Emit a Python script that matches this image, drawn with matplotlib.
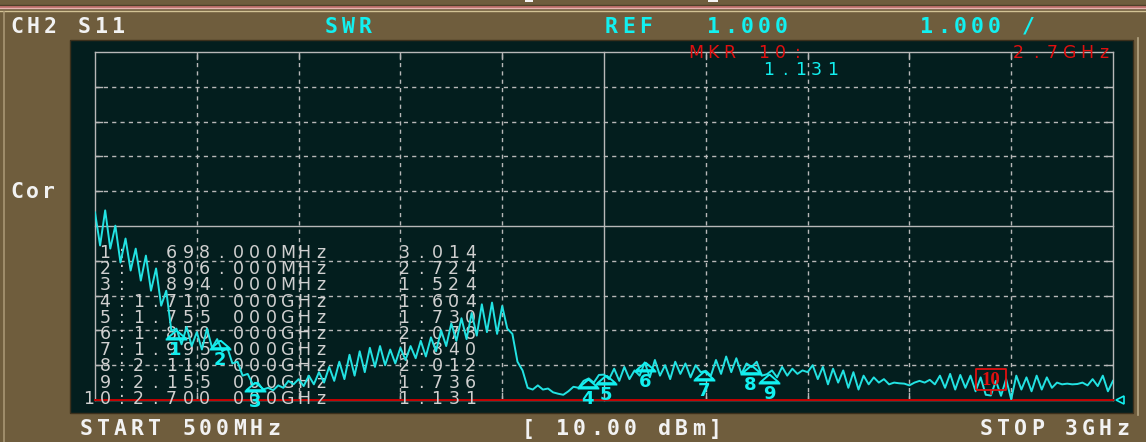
import numpy as np
import matplotlib
matplotlib.use("Agg")
import matplotlib.pyplot as plt
from matplotlib.transforms import Affine2D
from matplotlib.lines import Line2D
from matplotlib.patches import Rectangle
from matplotlib.path import Path

W, H = 1146, 442

START_MHZ = 500
STOP_MHZ = 3000
REF_SWR = 1.0
SWR_PER_DIV = 1.0

# swept SWR trace, 201 points START..STOP
swr_trace = [
    6.39, 5.44, 6.45, 5.35, 6.01, 4.95, 5.64, 4.72, 5.35, 4.43,
    5.15, 4.14, 4.78, 3.71, 4.14, 2.99, 3.05, 2.60, 3.10, 2.55,
    2.95, 2.45, 3.05, 2.50, 2.75, 2.40, 2.50, 2.05, 2.10, 1.70,
    1.75, 1.45, 1.50, 1.30, 1.35, 1.28, 1.42, 1.35, 1.55, 1.45,
    1.60, 1.40, 1.70, 1.45, 1.80, 1.50, 1.95, 1.55, 2.10, 1.60,
    2.30, 1.70, 2.40, 1.80, 2.50, 1.95, 2.55, 2.00, 2.45, 2.05,
    2.50, 2.15, 2.55, 2.20, 2.70, 2.25, 2.80, 2.40, 3.00, 2.55,
    3.20, 2.70, 3.35, 2.75, 3.50, 2.85, 3.75, 2.95, 3.80, 2.90,
    3.70, 3.05, 2.90, 2.10, 1.85, 1.35, 1.30, 1.42, 1.30, 1.33,
    1.22, 1.18, 1.15, 1.25, 1.38, 1.35, 1.55, 1.62, 1.50, 1.72,
    1.73, 1.60, 1.90, 1.55, 1.95, 1.60, 1.85, 1.70, 2.08, 1.65,
    2.15, 1.70, 2.00, 1.60, 2.10, 1.75, 2.05, 1.65, 2.00, 1.80,
    1.84, 1.70, 2.15, 1.75, 2.25, 1.80, 2.20, 1.75, 2.05, 1.95,
    2.10, 1.70, 1.74, 1.85, 1.65, 1.95, 1.70, 1.90, 1.75, 1.85,
    1.80, 2.00, 1.60, 1.95, 1.45, 1.90, 1.50, 1.85, 1.35, 1.80,
    1.30, 1.70, 1.45, 1.65, 1.50, 1.60, 1.45, 1.50, 1.48, 1.47,
    1.42, 1.50, 1.55, 1.50, 1.58, 1.45, 1.70, 1.35, 1.75, 1.30,
    1.72, 1.35, 1.70, 1.25, 1.65, 1.15, 1.13, 1.55, 1.12, 1.60,
    1.02, 1.70, 1.30, 1.65, 1.25, 1.70, 1.30, 1.65, 1.35, 1.50,
    1.45, 1.47, 1.45, 1.46, 1.50, 1.42, 1.60, 1.40, 1.70, 1.25,
    1.55,
]

mkr_num = [1, 2, 3, 4, 5, 6, 7, 8, 9, 10]
mkr_freq_mhz = [698, 806, 894, 1710, 1755, 1850, 1995, 2110, 2155, 2700]
mkr_swr = [3.014, 2.724, 1.524, 1.604, 1.730, 2.078, 1.840, 2.012, 1.736, 1.131]
ACTIVE_MKR = 10

BROWN = '#6f5d3d'
PANEL = '#031e1e'
GRID = '#b8b8b8'
TRACE = '#22e2e2'
CYAN = '#12f0f0'
WHITE = '#f2f2f2'
TABLE = '#d0d0d0'
RED = '#e01010'

plt.rcParams['lines.scale_dashes'] = False

fig = plt.figure(figsize=(W / 100, H / 100), dpi=100, facecolor=BROWN)
# pixel coords, origin top-left
px = Affine2D().scale(1 / W, -1 / H).translate(0, 1) + fig.transFigure


def put(target, s, x0, base, pitch, size, color, weight='normal',
        family='DejaVu Sans Mono', z=3):
    # fixed-pitch text like the instrument's screen font
    for i, ch in enumerate(s):
        if ch == ' ':
            continue
        target.text(x0 + i * pitch + 6.5, base, ch, transform=px, ha='center',
                    va='baseline', fontsize=size, color=color,
                    fontweight=weight, family=family, zorder=z)


def hline(y, x0, x1, color, lw):
    fig.add_artist(Line2D([x0, x1], [y, y], transform=px, color=color, lw=lw, zorder=-1))


# frame decorations
hline(5, 0, W, '#4e4028', 1.0)
hline(6.8, 0, W, '#c87070', 1.2)
hline(8.4, 0, W, '#e8b4b0', 1.0)
hline(11, 0, W, '#d2c294', 1.0)
fig.add_artist(Line2D([4, 4], [12, H], transform=px, color='#a89674', lw=1.2, zorder=-1))
fig.add_artist(Line2D([1138, 1138], [38, 415], transform=px, color='#b4a482', lw=1.2, zorder=-1))
for xa, xb in [(525, 533), (708, 718)]:
    fig.add_artist(Rectangle((xa, 0), xb - xa, 2, transform=px, color='#f4f4f4', lw=0, zorder=-1))
fig.add_artist(Rectangle((70, 40), 1133 - 70, 413 - 40, transform=px,
                         facecolor=PANEL, edgecolor='#3c301c', lw=1, zorder=-1))

# header / footer
put(fig, 'CH2 S11', 10, 33, 17, 15.5, WHITE, 'bold')
put(fig, 'SWR', 325, 33, 17, 15.5, CYAN, 'bold')
put(fig, 'REF', 605, 33, 17, 15.5, CYAN, 'bold')
put(fig, '1.000', 707, 33, 17, 15.5, CYAN, 'bold')
put(fig, '1.000 /', 920, 33, 17, 15.5, CYAN, 'bold')
put(fig, 'Cor', 10, 198, 16, 15.5, WHITE, 'bold')
put(fig, 'START 500MHz', 80, 435, 17, 15.5, WHITE, 'bold')
put(fig, '[ 10.00 dBm]', 522, 435, 17, 15.5, WHITE, 'bold')
put(fig, 'STOP 3GHz', 980, 435, 17, 15.5, WHITE, 'bold')

ax = fig.add_axes([95 / W, 1 - 400 / H, (1113 - 95) / W, (400 - 52) / H])
ax.set_xlim(START_MHZ, STOP_MHZ)
ax.set_ylim(REF_SWR, REF_SWR + 10 * SWR_PER_DIV)
ax.axis('off')

# graticule: solid frame + centre lines, dashed elsewhere with short solid ends
xdiv = np.linspace(START_MHZ, STOP_MHZ, 11)
ydiv = np.linspace(REF_SWR, REF_SWR + 10 * SWR_PER_DIV, 11)
tx = 7 * (STOP_MHZ - START_MHZ) / 1018
ty = 7 * 10 * SWR_PER_DIV / 348
for k, xv in enumerate(xdiv):
    if k in (0, 5, 10):
        ax.plot([xv, xv], [ydiv[0], ydiv[-1]], color=GRID, lw=1.0, zorder=1, clip_on=False)
    else:
        ax.plot([xv, xv], [ydiv[0], ydiv[-1]], color=GRID, lw=1.0, ls=(0, (3, 3)), zorder=1)
        for ya, yb in [(ydiv[0], ydiv[0] + ty), (ydiv[-1] - ty, ydiv[-1])]:
            ax.plot([xv, xv], [ya, yb], color=GRID, lw=1.0, zorder=1)
for k, yv in enumerate(ydiv):
    if k in (0, 5, 10):
        ax.plot([xdiv[0], xdiv[-1]], [yv, yv], color=GRID, lw=1.0, zorder=1, clip_on=False)
    else:
        ax.plot([xdiv[0], xdiv[-1]], [yv, yv], color=GRID, lw=1.0, ls=(0, (3, 3)), zorder=1)
        for xa, xb in [(xdiv[0], xdiv[0] + tx), (xdiv[-1] - tx, xdiv[-1])]:
            ax.plot([xa, xb], [yv, yv], color=GRID, lw=1.0, zorder=1)
ax.axhline(REF_SWR, color='#c40000', lw=1.4, zorder=2, clip_on=False)
ax.plot([STOP_MHZ], [REF_SWR], marker='<', ms=6, mfc=PANEL, mec=CYAN, mew=1.2,
        transform=ax.transData + Affine2D().translate(7, 0), clip_on=False, zorder=6)

# marker table
for r, (n, f, v) in enumerate(zip(mkr_num, mkr_freq_mhz, mkr_swr)):
    fs = f"  {f:.3f}MHz" if f < 1000 else f"{f / 1000:.3f} 000GHz"
    line = f"{n:>2}:{fs}    {v:.3f}"
    put(ax, line, 82, 258 + r * 16.2, 16.6, 12.5, TABLE, family='DejaVu Sans', z=2)

# active marker readout
put(fig, 'MKR 10:', 689, 58, 17, 12.5, RED, family='DejaVu Sans')
put(fig, '2.7GHz', 1012, 58, 17, 12.5, RED, family='DejaVu Sans')
put(fig, f"{mkr_swr[ACTIVE_MKR - 1]:.3f}", 762, 75, 16, 12.5, CYAN, family='DejaVu Sans')

freqs = np.linspace(START_MHZ, STOP_MHZ, len(swr_trace))
ax.plot(freqs, swr_trace, color=TRACE, lw=1.4, zorder=4)

tri = Path([(0, 0), (-1, -0.85), (1, -0.85), (0, 0), (-1.2, -1.0), (1.2, -1.0)],
           [Path.MOVETO, Path.LINETO, Path.LINETO, Path.LINETO, Path.MOVETO, Path.LINETO])
box = [(-1.5, -1.05), (1.5, -1.05), (1.5, 1.05), (-1.5, 1.05), (-1.5, -1.05)]
for n, f, v in zip(mkr_num, mkr_freq_mhz, mkr_swr):
    if n == ACTIVE_MKR:
        up = ax.transData + Affine2D().translate(0, 16)
        ax.plot([f], [v], marker=box, ms=21.6, mfc='none', mec=RED, mew=1.3,
                transform=up, zorder=6, clip_on=False)
        ax.plot([f], [v], marker=[(0, 0), (0, 1)], ms=8, mec=RED, mew=1.2, zorder=6)
        ax.annotate(str(n), (f, v), xytext=(0, 15), textcoords='offset pixels',
                    ha='center', va='center', color=RED, fontsize=13.5,
                    fontweight='bold', family='Liberation Serif', zorder=6)
    else:
        ax.plot([f], [v], marker=tri, ms=15.6, mfc='none', mec=CYAN, mew=1.4, zorder=5)
        ax.annotate(str(n), (f, v), xytext=(0, -20), textcoords='offset pixels',
                    ha='center', va='center', color=CYAN, fontsize=13,
                    fontweight='bold', zorder=5)

fig.savefig('out.png', dpi=100, facecolor=BROWN)
